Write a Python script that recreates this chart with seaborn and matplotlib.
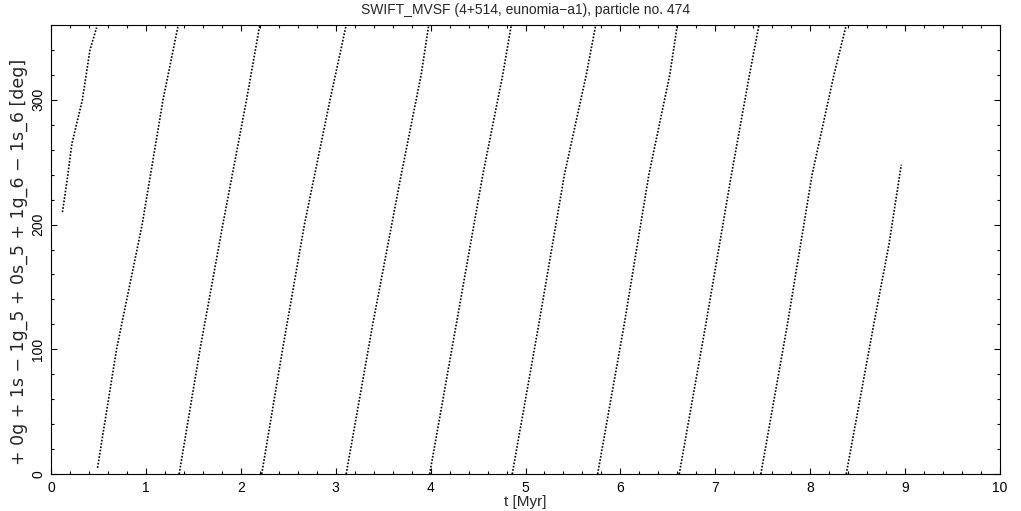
import pandas as pd
import numpy as np
import matplotlib.pyplot as plt
import seaborn as sns
from matplotlib.ticker import MultipleLocator

# resonant angle vs time (each segment wraps 0 -> 360 deg)
segment = [0]*6 + [1]*5 + [2]*5 + [3]*5 + [4]*5 + [5]*5 + [6]*5 + [7]*5 + [8]*5 + [9]*5 + [10]*4
t_myr = [0.12, 0.17, 0.22, 0.33, 0.41, 0.48,
         0.49, 0.69, 0.96, 1.18, 1.34,
         1.35, 1.57, 1.81, 2.06, 2.20,
         2.22, 2.44, 2.67, 2.94, 3.11,
         3.11, 3.39, 3.69, 3.90, 3.98,
         3.99, 4.27, 4.55, 4.76, 4.85,
         4.86, 5.14, 5.41, 5.64, 5.74,
         5.76, 6.04, 6.30, 6.52, 6.60,
         6.62, 6.90, 7.17, 7.36, 7.46,
         7.48, 7.76, 8.02, 8.25, 8.38,
         8.38, 8.67, 8.83, 8.96]
angle_deg = [210, 236, 265, 300, 340, 358,
             5, 100, 200, 300, 360,
             0, 100, 200, 300, 360,
             0, 100, 200, 300, 360,
             0, 120, 240, 320, 360,
             0, 120, 240, 320, 360,
             0, 120, 240, 320, 360,
             0, 120, 240, 320, 360,
             0, 120, 240, 320, 360,
             0, 120, 240, 320, 360,
             0, 120, 184, 248]

df = pd.DataFrame({"t": t_myr, "angle": angle_deg, "segment": segment})

sns.set_style("ticks")
plt.rcParams['font.family'] = ['Liberation Sans', 'DejaVu Sans']

fig = plt.figure(figsize=(10.21, 5.11), dpi=100)
ax = fig.add_axes([0.05, 0.0724, 0.9294, 0.8786])

sns.lineplot(data=df, x="t", y="angle", units="segment", estimator=None, sort=False,
             color="black", linewidth=1.2, linestyle=(0, (1, 1.0)), ax=ax)

ax.set_xlim(0, 10)
ax.set_ylim(0, 360)
ax.xaxis.set_major_locator(MultipleLocator(1))
ax.xaxis.set_minor_locator(MultipleLocator(0.2))
ax.yaxis.set_major_locator(MultipleLocator(100))
ax.yaxis.set_minor_locator(MultipleLocator(20))
ax.tick_params(which="both", direction="in", top=True, right=True, colors="black", labelsize=10)
ax.tick_params(which="major", length=4.3, width=0.8)
ax.tick_params(which="minor", length=2.2, width=0.8)
ax.tick_params(axis="x", pad=5)
ax.tick_params(axis="y", pad=4)
for lab in ax.get_yticklabels():
    lab.set_rotation(90)
    lab.set_va("center")
for s in ax.spines.values():
    s.set_linewidth(0.8)
    s.set_color("black")

ax.set_xlabel("t [Myr]", fontsize=11, labelpad=0)
ax.set_ylabel("+ 0g + 1s − 1g_5 + 0s_5 + 1g_6 − 1s_6 [deg]", fontsize=12.5,
              family=["DejaVu Sans"])
ax.yaxis.set_label_coords(-0.024, 0.472)
ax.set_title("SWIFT_MVSF (4+514, eunomia−a1), particle no. 474", fontsize=10, pad=8)

fig.savefig("out.png", dpi=100)
